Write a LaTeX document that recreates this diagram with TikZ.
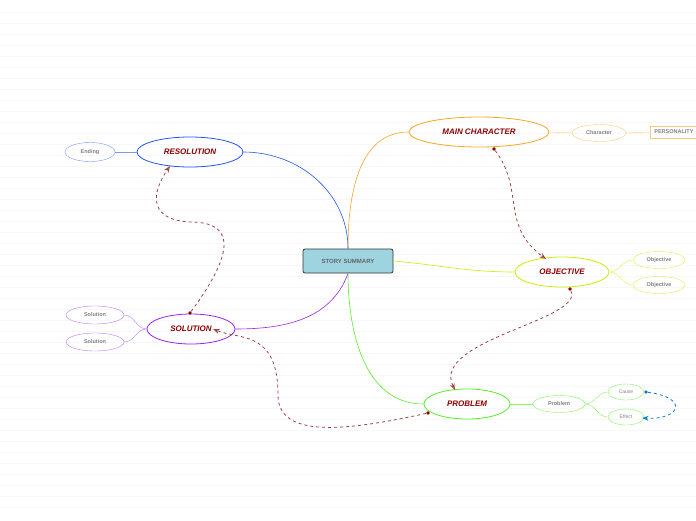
\documentclass[tikz,border=0pt]{standalone}
\usepackage{fontspec}
\setmainfont{Liberation Sans}
\usetikzlibrary{shapes.geometric,arrows.meta}
\definecolor{cOrange}{HTML}{F5A623}
\definecolor{cLime}{HTML}{CCEE00}
\definecolor{cGreen}{HTML}{55EE22}
\definecolor{cPurple}{HTML}{9922EE}
\definecolor{cBlue}{HTML}{2255EE}
\definecolor{cRed}{HTML}{8B0000}
\definecolor{cLink}{HTML}{A04040}
\definecolor{cBox}{HTML}{9ED3E0}
\begin{document}
\begin{tikzpicture}[x=1pt, y=-1pt,
    topic/.style={ellipse, draw, thick, inner sep=0pt, font=\bfseries\itshape\fontsize{8}{8}\selectfont, text=cRed},
    sub/.style={ellipse, draw, inner sep=0pt, font=\bfseries\fontsize{5.5}{6}\selectfont, text=gray},
    link/.style={draw=cLink, thick, dashed, -{Stealth[open]}},
    dot/.style={circle, fill=cRed, inner sep=1.3pt}]
  \useasboundingbox (0,0) rectangle (696,520);
  \foreach \y in {12,23,...,515} \draw[black!3] (0,\y) -- (696,\y);
  \node[draw=black!80, thick, rounded corners=2pt, fill=cBox, minimum width=90pt, minimum height=24pt,
        font=\bfseries\fontsize{6}{6}\selectfont, text=black!60] (c) at (348,261) {STORY SUMMARY};
  \node[topic, draw=cOrange, minimum width=140pt, minimum height=30pt] (mc) at (479,132) {MAIN CHARACTER};
  \node[topic, draw=cLime, minimum width=94pt, minimum height=30pt] (ob) at (562,272) {OBJECTIVE};
  \node[topic, draw=cGreen, minimum width=86pt, minimum height=30pt] (pr) at (467,404) {PROBLEM};
  \node[topic, draw=cPurple, minimum width=88pt, minimum height=30pt] (so) at (191,329) {SOLUTION};
  \node[topic, draw=cBlue, minimum width=106pt, minimum height=30pt] (re) at (190,152) {RESOLUTION};
  \node[sub, draw=cOrange!60, minimum width=54pt, minimum height=17pt] (ch) at (599,133) {Character};
  \node[draw=cOrange!60, thick, anchor=west, minimum height=12pt, inner sep=4pt, font=\bfseries\fontsize{5.5}{6}\selectfont, text=gray] (pe) at (650,132) {PERSONALITY};
  \node[sub, draw=cLime!70, minimum width=52pt, minimum height=17pt] (o1) at (659,260) {Objective};
  \node[sub, draw=cLime!70, minimum width=52pt, minimum height=17pt] (o2) at (659,285) {Objective};
  \node[sub, draw=cGreen!70, minimum width=52pt, minimum height=17pt] (p1) at (559,404) {Problem};
  \node[sub, draw=cGreen!70, minimum width=36pt, minimum height=16pt, font=\fontsize{5}{5}\selectfont] (ca) at (626,392) {Cause};
  \node[sub, draw=cGreen!70, minimum width=36pt, minimum height=16pt, font=\fontsize{5}{5}\selectfont] (ef) at (626,417) {Effect};
  \node[sub, draw=cPurple!60, minimum width=58pt, minimum height=18pt] (s1) at (95,315) {Solution};
  \node[sub, draw=cPurple!60, minimum width=58pt, minimum height=18pt] (s2) at (95,342) {Solution};
  \node[sub, draw=cBlue!60, minimum width=50pt, minimum height=19pt] (en) at (90,152) {Ending};

  \draw[cOrange, semithick] (c.north) to[out=90, in=180] (mc.west);
  \draw[cLime, semithick] (c.east) to[out=-5, in=180] (ob.west);
  \draw[cGreen, semithick] (c.south) to[out=-90, in=180] (pr.west);
  \draw[cPurple, semithick] (c.south) to[out=-110, in=0] (so.east);
  \draw[cBlue, semithick] (c.north) to[out=90, in=0] (re.east);
  \draw[cOrange!60] (mc.east) -- (ch.west);
  \draw[cOrange!60] (ch.east) -- (pe.west);
  \draw[cLime!70] (ob.east) to[out=0, in=180] (o1.west);
  \draw[cLime!70] (ob.east) to[out=0, in=180] (o2.west);
  \draw[cGreen!70] (pr.east) -- (p1.west);
  \draw[cGreen!70] (p1.east) to[out=0, in=180] (ca.west);
  \draw[cGreen!70] (p1.east) to[out=0, in=180] (ef.west);
  \draw[cPurple!60] (so.west) to[out=180, in=0] (s1.east);
  \draw[cPurple!60] (so.west) to[out=180, in=0] (s2.east);
  \draw[cBlue!60] (re.west) -- (en.east);

  \node[dot] (d1) at (494,149) {};
  \node[dot] (d2) at (570,289) {};
  \node[dot] (d3) at (190,313) {};
  \node[dot] (d4) at (428,413) {};
  \node[circle, fill=cyan!60!blue, inner sep=1.3pt] (d5) at (646,392) {};
  \coordinate (t1) at (546,259);
  \coordinate (t2) at (455,390);
  \coordinate (t3) at (170,166);
  \coordinate (t4) at (213,329);
  \coordinate (t5) at (642,418);
  \draw[link] (d1) .. controls (525,190) and (500,225) .. (t1);
  \draw[link] (d2) .. controls (585,320) and (430,340) .. (t2);
  \draw[link] (d3) .. controls (240,245) and (230,222) .. (190,222) .. controls (150,220) and (150,195) .. (t3);
  \draw[link] (d4) .. controls (350,430) and (278,440) .. (278,395) .. controls (278,330) and (240,340) .. (t4);
  \draw[draw=cyan!60!blue, thick, dashed, -{Stealth[open]}] (d5) .. controls (690,398) and (680,420) .. (t5);
\end{tikzpicture}
\end{document}
